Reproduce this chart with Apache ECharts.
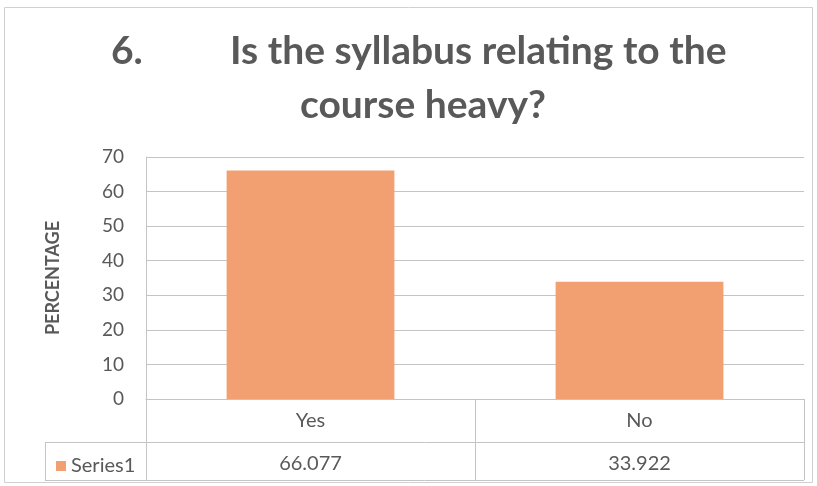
<!DOCTYPE html>
<html>
<head>
<meta charset="utf-8">
<script src="https://cdn.jsdelivr.net/npm/echarts@6/dist/echarts.min.js"></script>
<style>
  html, body { margin: 0; padding: 0; background: #fff; }
  #chart { width: 817px; height: 486px; }
</style>
</head>
<body>
<div id="chart"></div>
<script>
const categories = ['Yes', 'No']
const seriesName = 'Series1'
const values = [66.077, 33.922]
const yTicks = { min: 0, max: 70, interval: 10 }

const chartInstance = echarts.init(document.getElementById('chart'))

// plot area bounds (px)
const G = { left: 146, right: 804, top: 157, bottom: 399 }
const rowMid = 442
const tableBottom = 480
const tableLeft = 45
const lineColor = '#c4c4c4'
const textColor = '#595959'
const barColor = '#f2a072'
const font = 'Lato, "Open Sans", sans-serif'
const titleStyle = { fontFamily: font, fontSize: 39, fontWeight: 'bold', color: textColor }

const line = (x1, y1, x2, y2) => ({
  type: 'line',
  shape: { x1, y1, x2, y2 },
  style: { stroke: lineColor, lineWidth: 1 },
  silent: true
})

const option = {
  backgroundColor: '#fff',
  animation: false,
  title: [
    { text: '6.', left: 106, top: 27, textStyle: titleStyle },
    { text: 'Is the syllabus relating to the', left: 225, top: 27, textStyle: titleStyle },
    { text: 'course heavy?', left: 418, textAlign: 'center', top: 81, textStyle: titleStyle }
  ],
  legend: {
    data: [seriesName],
    left: 51,
    top: 451,
    icon: 'rect',
    itemWidth: 10,
    itemHeight: 10,
    itemGap: 6,
    textStyle: { fontFamily: font, fontSize: 20, color: textColor }
  },
  grid: {
    left: G.left,
    right: 817 - G.right,
    top: G.top,
    bottom: 486 - G.bottom,
    containLabel: false
  },
  xAxis: [
    {
      type: 'category',
      data: categories,
      axisLine: { show: true, lineStyle: { color: lineColor } },
      axisTick: { show: false },
      axisLabel: { fontFamily: font, fontSize: 20, color: textColor, margin: 12 }
    },
    {
      type: 'category',
      data: values.map(v => v.toFixed(3)),
      position: 'bottom',
      offset: 43,
      axisLine: { show: false },
      axisTick: { show: false },
      axisLabel: { fontFamily: font, fontSize: 20, color: textColor, margin: 12 }
    }
  ],
  yAxis: {
    type: 'value',
    min: yTicks.min,
    max: yTicks.max,
    interval: yTicks.interval,
    name: 'PERCENTAGE',
    nameLocation: 'middle',
    nameGap: 84,
    nameRotate: 90,
    nameTextStyle: { fontFamily: font, fontSize: 18, fontWeight: 'bold', color: textColor },
    axisLine: { show: true, lineStyle: { color: lineColor } },
    axisTick: { show: false },
    axisLabel: { fontFamily: font, fontSize: 19, color: textColor, margin: 22 },
    splitLine: { lineStyle: { color: lineColor, width: 1 } }
  },
  series: [
    {
      name: seriesName,
      type: 'bar',
      data: values,
      barWidth: '51%',
      itemStyle: { color: barColor }
    }
  ],
  graphic: [
    // outer frame
    {
      type: 'rect',
      shape: { x: 4.5, y: 7.5, width: 808, height: 475 },
      style: { fill: 'none', stroke: '#d0d0d0', lineWidth: 1 },
      silent: true
    },
    // data table
    line(G.left + 0.5, G.bottom, G.left + 0.5, tableBottom),
    line((G.left + G.right) / 2 + 0.5, G.bottom, (G.left + G.right) / 2 + 0.5, tableBottom),
    line(G.right + 0.5, G.bottom, G.right + 0.5, tableBottom),
    line(tableLeft + 0.5, rowMid, tableLeft + 0.5, tableBottom),
    line(tableLeft, rowMid + 0.5, G.right, rowMid + 0.5),
    line(tableLeft, tableBottom + 0.5, G.right, tableBottom + 0.5)
  ]
}

chartInstance.setOption(option)
</script>
</body>
</html>
